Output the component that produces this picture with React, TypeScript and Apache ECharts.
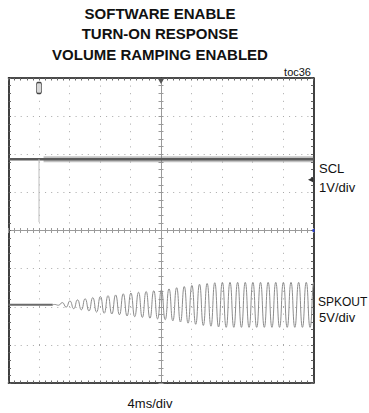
import React, { useEffect, useRef } from "react";
import * as echarts from "echarts";

// ---- text ----
const titleLines = ["SOFTWARE ENABLE", "TURN-ON RESPONSE", "VOLUME RAMPING ENABLED"];
const figureTag = "toc36";
const timeScaleLabel = "4ms/div";
const channelNames = ["SCL", "SPKOUT"];
const channelScales = ["1V/div", "5V/div"];

// ---- axes: time in ms (trigger at 0), vertical in screen divisions ----
const timeMin = -20;
const timeMax = 20;
const msPerDiv = 4;
const divMin = -4;
const divMax = 4;

// ---- SCL trace (divisions) ----
const sclTrace = [
  [-20, 1.87],
  [20, 1.87],
];
const sclGlitch = [
  [-16, 1.87],
  [-16, 0.22],
];
const sclActivity = [
  [-15.4, 1.87],
  [20, 1.87],
];
const triggerTime = -16;
const sclGroundLevel = 1.33;

// ---- SPKOUT trace (divisions) ----
const spkOffset = -1.95;
const spkStartMs = -14.2;
const spkPeriodMs = 1.0;
// peak amplitude of each cycle after the volume ramp starts (divisions)
const spkAmplitudes = [
  0.01, 0.06, 0.1, 0.13, 0.16, 0.19, 0.22, 0.24, 0.26, 0.29, 0.31, 0.33,
  0.35, 0.37, 0.39, 0.42, 0.45, 0.48, 0.51, 0.54, 0.56, 0.58, 0.59, 0.59,
  0.59, 0.59, 0.59, 0.59, 0.59, 0.59, 0.59, 0.59, 0.59, 0.59, 0.59,
];

const spkIdle = [
  [timeMin, spkOffset],
  [spkStartMs, spkOffset],
];
const spkWave: number[][] = [[spkStartMs, spkOffset]];
spkAmplitudes.forEach((a, k) => {
  const t0 = spkStartMs + k * spkPeriodMs;
  spkWave.push([t0 + spkPeriodMs * 0.25, spkOffset + a]);
  spkWave.push([t0 + spkPeriodMs * 0.75, spkOffset - a]);
});

const FONT = "Liberation Sans";

export default function App() {
  const ref = useRef<HTMLDivElement>(null);
  useEffect(() => {
    if (!ref.current) return;
    const chart = echarts.init(ref.current, null, { renderer: "svg" });
    const gridBox = { left: 8.5, top: 78, width: 305, height: 305 };
    const borderAxisX = (pos: string, split: boolean) => ({
      type: "value",
      gridIndex: 0,
      position: pos,
      min: timeMin,
      max: timeMax,
      interval: msPerDiv,
      axisLine: { show: true, onZero: false, lineStyle: { color: "#111", width: 1.6 } },
      axisTick: { show: true, inside: true, length: 2.5, lineStyle: { color: "#666" } },
      minorTick: { show: true, splitNumber: 5, length: 2.5, lineStyle: { color: "#666" } },
      axisLabel: { show: false },
      splitLine: { show: split, lineStyle: { color: "#a8a8a8", width: 1, type: [1, 6.6] } },
    });
    const borderAxisY = (pos: string, split: boolean) => ({
      type: "value",
      gridIndex: 0,
      position: pos,
      min: divMin,
      max: divMax,
      interval: 1,
      axisLine: { show: true, onZero: false, lineStyle: { color: "#111", width: 1.6 } },
      axisTick: { show: true, inside: true, length: 2.5, lineStyle: { color: "#666" } },
      minorTick: { show: true, splitNumber: 5, length: 2.5, lineStyle: { color: "#666" } },
      axisLabel: { show: false },
      splitLine: { show: split, lineStyle: { color: "#a8a8a8", width: 1, type: [1, 5.1] } },
    });
    const crossAxisX = (grid: number, pos: string) => ({
      type: "value",
      gridIndex: grid,
      position: pos,
      min: timeMin,
      max: timeMax,
      interval: msPerDiv,
      axisLine: { show: true, onZero: true, lineStyle: { color: "#9a9a9a", width: 1 } },
      axisTick: { show: true, inside: true, length: 2.5, lineStyle: { color: "#9a9a9a" } },
      minorTick: { show: true, splitNumber: 5, length: 2.5, lineStyle: { color: "#9a9a9a" } },
      axisLabel: { show: false },
      splitLine: { show: false },
    });
    const crossAxisY = (grid: number, pos: string) => ({
      type: "value",
      gridIndex: grid,
      position: pos,
      min: divMin,
      max: divMax,
      interval: 1,
      axisLine: { show: true, onZero: true, lineStyle: { color: "#9a9a9a", width: 1 } },
      axisTick: { show: true, inside: true, length: 2.5, lineStyle: { color: "#9a9a9a" } },
      minorTick: { show: true, splitNumber: 5, length: 2.5, lineStyle: { color: "#9a9a9a" } },
      axisLabel: { show: false },
      splitLine: { show: false },
    });

    const txt = (text: string, x: number, y: number, size: number, bold: boolean, align: string) => ({
      type: "text",
      x,
      y,
      silent: true,
      style: {
        text,
        fill: "#111",
        font: `${bold ? "bold " : ""}${size}px "${FONT}"`,
        align,
        verticalAlign: "middle",
      },
    });

    chart.setOption({
      animation: false,
      backgroundColor: "#fff",
      grid: [gridBox, gridBox, gridBox],
      xAxis: [
        borderAxisX("bottom", true),
        borderAxisX("top", false),
        crossAxisX(1, "bottom"),
        crossAxisX(2, "top"),
      ],
      yAxis: [
        borderAxisY("left", true),
        borderAxisY("right", false),
        crossAxisY(1, "left"),
        crossAxisY(2, "right"),
      ],
      graphic: [
        txt(titleLines[0], 160, 13.8, 15, true, "center"),
        txt(titleLines[1], 160, 33.8, 15, true, "center"),
        txt(titleLines[2], 160, 54.4, 15, true, "center"),
        txt(figureTag, 311, 71.5, 11, false, "right"),
        txt(channelNames[0], 319, 168.3, 13, false, "left"),
        txt(channelScales[0], 319, 187.5, 13, false, "left"),
        txt(channelNames[1], 318, 302, 12, false, "left"),
        txt(channelScales[1], 319, 317.2, 13, false, "left"),
        txt(timeScaleLabel, 150, 403.5, 13, false, "center"),
      ],
      series: [
        {
          name: "SCL activity",
          type: "line",
          xAxisIndex: 0,
          yAxisIndex: 0,
          data: sclActivity,
          symbol: "none",
          silent: true,
          lineStyle: { color: "rgba(120,120,120,0.45)", width: 6 },
        },
        {
          name: "SCL",
          type: "line",
          xAxisIndex: 0,
          yAxisIndex: 0,
          data: sclTrace,
          symbol: "none",
          silent: true,
          lineStyle: { color: "#5a5a5a", width: 2.5 },
          markPoint: {
            silent: true,
            label: { show: false },
            data: [
              {
                coord: [0, divMax],
                symbol: "triangle",
                symbolRotate: 180,
                symbolSize: [7, 6],
                symbolOffset: [0, 3],
                itemStyle: { color: "#555" },
              },
              {
                coord: [triggerTime, divMax],
                symbol: "roundRect",
                symbolSize: [5, 11],
                symbolOffset: [0, 10],
                itemStyle: { color: "#d8d8d8", borderColor: "#444", borderWidth: 1 },
              },
              {
                coord: [timeMax, sclGroundLevel],
                symbol: "triangle",
                symbolRotate: 90,
                symbolSize: [5, 5],
                symbolOffset: [-3, 0],
                itemStyle: { color: "#333" },
              },
              {
                coord: [timeMax, 0],
                symbol: "rect",
                symbolSize: [2, 3],
                itemStyle: { color: "#2a3fd0" },
              },
            ],
          },
        },
        {
          name: "SCL glitch",
          type: "line",
          xAxisIndex: 0,
          yAxisIndex: 0,
          data: sclGlitch,
          symbol: "none",
          silent: true,
          lineStyle: { color: "#bdbdbd", width: 1 },
        },
        {
          name: "SPKOUT idle",
          type: "line",
          xAxisIndex: 0,
          yAxisIndex: 0,
          data: spkIdle,
          symbol: "none",
          silent: true,
          lineStyle: { color: "#6a6a6a", width: 2 },
        },
        {
          name: "SPKOUT",
          type: "line",
          xAxisIndex: 0,
          yAxisIndex: 0,
          data: spkWave,
          symbol: "none",
          smooth: 0.55,
          silent: true,
          lineStyle: { color: "#8c8c8c", width: 1 },
        },
      ],
    });
    return () => chart.dispose();
  }, []);
  return (
    <div
      ref={ref}
      style={{ position: "fixed", left: 0, top: 0, width: 369, height: 413, background: "#fff" }}
    />
  );
}
